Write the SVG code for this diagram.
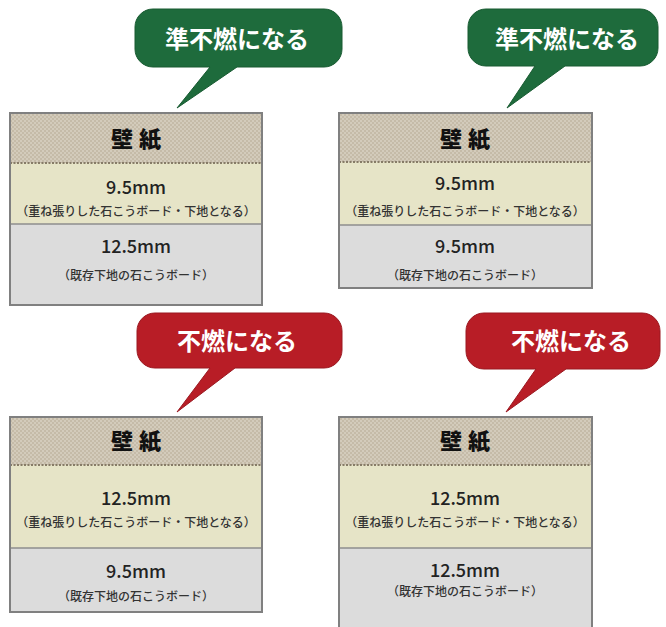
<svg xmlns="http://www.w3.org/2000/svg" width="666" height="627" viewBox="0 0 666 627">
<defs>
<pattern id="weave" x="0" y="0" width="4" height="4" patternUnits="userSpaceOnUse">
<rect width="4" height="4" fill="#c5bba8"/>
<rect x="0" y="0" width="2" height="2" fill="#d3cbbb"/>
<rect x="2" y="2" width="2" height="2" fill="#d3cbbb"/>
</pattern>
<style>
.bg{fill:#ffffff}
.wall{fill:url(#weave)}
.yel{fill:#e6e4c7}
.gry{fill:#dcdcdc}
.frame{fill:none;stroke:#808080;stroke-width:2}
.dots{stroke:#867b67;stroke-width:2;stroke-dasharray:2 1.5}
.sep{stroke:#8e8e8e;stroke-width:1.5}
.green{fill:#1e6b3c;stroke:#185a31;stroke-width:1}
.red{fill:#b81d26;stroke:#9a1820;stroke-width:1}
.btxt{font-family:"Noto Sans CJK JP","Noto Sans",sans-serif;font-weight:bold;font-size:24px;fill:#ffffff;text-anchor:middle}
.head{font-family:"Noto Sans CJK JP",sans-serif;font-weight:900;font-size:22px;fill:#111111;text-anchor:middle;letter-spacing:6px}
.mm{font-family:"Noto Sans CJK JP","Noto Sans",sans-serif;font-weight:500;font-size:18px;fill:#222222;text-anchor:middle}
.sub{font-family:"Noto Sans CJK JP",sans-serif;font-weight:500;font-size:12px;fill:#333333;text-anchor:middle}
</style>
</defs>
<rect class="bg" x="0" y="0" width="666" height="627"/>

<g id="bubble1">
<path class="green" d="M153,9 H324 A18,18 0 0 1 342,27 V49 A18,18 0 0 1 324,67 H237 L177,108 L210,67 H153 A18,18 0 0 1 135,49 V27 A18,18 0 0 1 153,9 Z"/>
<text class="btxt" x="237" y="48">準不燃になる</text>
</g>

<g id="bubble2">
<path class="green" d="M486,9 H640 A18,18 0 0 1 658,27 V48 A18,18 0 0 1 640,66 H565 L507,108 L535,66 H486 A18,18 0 0 1 468,48 V27 A18,18 0 0 1 486,9 Z"/>
<text class="btxt" x="567" y="48">準不燃になる</text>
</g>

<g id="bubble3">
<path class="red" d="M155,313 H324 A18,18 0 0 1 342,331 V350 A18,18 0 0 1 324,368 H235 L177,412 L210,368 H155 A18,18 0 0 1 137,350 V331 A18,18 0 0 1 155,313 Z"/>
<text class="btxt" x="237" y="350">不燃になる</text>
</g>

<g id="bubble4">
<path class="red" d="M484,313 H642 A18,18 0 0 1 660,331 V351 A18,18 0 0 1 642,369 H566 L506,412 L536,369 H484 A18,18 0 0 1 466,351 V331 A18,18 0 0 1 484,313 Z"/>
<text class="btxt" x="571" y="350">不燃になる</text>
</g>

<g id="panel1">
<rect class="wall" x="10" y="113" width="252" height="50"/>
<rect class="yel" x="10" y="163" width="252" height="61"/>
<rect class="gry" x="10" y="224" width="252" height="81"/>
<line class="dots" x1="10" y1="163" x2="262" y2="163"/>
<line class="sep" x1="10" y1="224" x2="262" y2="224"/>
<rect class="frame" x="10" y="113" width="252" height="192"/>
<text class="head" x="139" y="147">壁紙</text>
<text class="mm" x="136" y="194">9.5mm</text>
<text class="sub" x="136" y="216">（重ね張りした石こうボード・下地となる）</text>
<text class="mm" x="136" y="253">12.5mm</text>
<text class="sub" x="136" y="280">（既存下地の石こうボード）</text>
</g>

<g id="panel2">
<rect class="wall" x="339" y="113" width="253" height="49"/>
<rect class="yel" x="339" y="162" width="253" height="63"/>
<rect class="gry" x="339" y="225" width="253" height="63"/>
<line class="dots" x1="339" y1="162" x2="592" y2="162"/>
<line class="sep" x1="339" y1="225" x2="592" y2="225"/>
<rect class="frame" x="339" y="113" width="253" height="175"/>
<text class="head" x="468" y="147">壁紙</text>
<text class="mm" x="465" y="190">9.5mm</text>
<text class="sub" x="465" y="216">（重ね張りした石こうボード・下地となる）</text>
<text class="mm" x="465" y="253">9.5mm</text>
<text class="sub" x="465" y="280">（既存下地の石こうボード）</text>
</g>

<g id="panel3">
<rect class="wall" x="10" y="417" width="252" height="48"/>
<rect class="yel" x="10" y="465" width="252" height="83"/>
<rect class="gry" x="10" y="548" width="252" height="64"/>
<line class="dots" x1="10" y1="465" x2="262" y2="465"/>
<line class="sep" x1="10" y1="548" x2="262" y2="548"/>
<rect class="frame" x="10" y="417" width="252" height="195"/>
<text class="head" x="139" y="449">壁紙</text>
<text class="mm" x="136" y="505">12.5mm</text>
<text class="sub" x="136" y="527">（重ね張りした石こうボード・下地となる）</text>
<text class="mm" x="136" y="578">9.5mm</text>
<text class="sub" x="136" y="601">（既存下地の石こうボード）</text>
</g>

<g id="panel4">
<rect class="wall" x="339" y="417" width="253" height="48"/>
<rect class="yel" x="339" y="465" width="253" height="83"/>
<rect class="gry" x="339" y="548" width="253" height="82"/>
<line class="dots" x1="339" y1="465" x2="592" y2="465"/>
<line class="sep" x1="339" y1="548" x2="592" y2="548"/>
<rect class="frame" x="339" y="417" width="253" height="213"/>
<text class="head" x="468" y="449">壁紙</text>
<text class="mm" x="465" y="505">12.5mm</text>
<text class="sub" x="465" y="527">（重ね張りした石こうボード・下地となる）</text>
<text class="mm" x="465" y="577">12.5mm</text>
<text class="sub" x="465" y="596">（既存下地の石こうボード）</text>
</g>
</svg>
